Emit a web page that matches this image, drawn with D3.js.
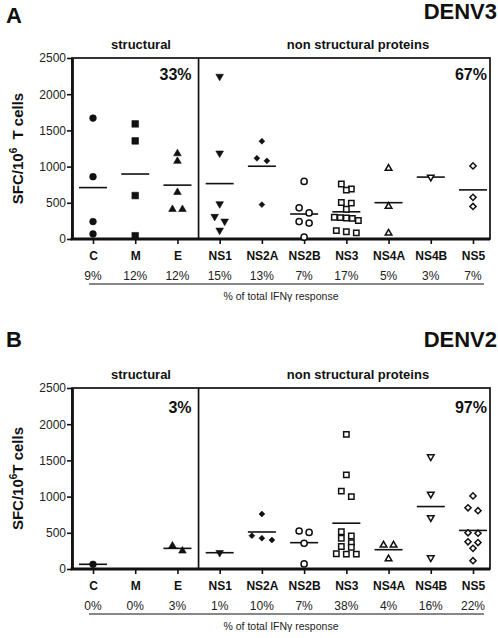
<!DOCTYPE html>
<html>
<head>
<meta charset="utf-8">
<script src="https://cdn.jsdelivr.net/npm/d3@7"></script>
<style>
  body { margin: 0; background: #fff; }
  svg { display: block; }
</style>
</head>
<body>
<svg id="chart" width="498" height="638"></svg>
<script>
// Kategorier och data
const PROTEINS = ["C", "M", "E", "NS1", "NS2A", "NS2B", "NS3", "NS4A", "NS4B", "NS5"];
const N_STRUCTURAL = 3;
const Y_TICKS = [0, 500, 1000, 1500, 2000, 2500];
const GROUP_LABELS = ["structural", "non structural proteins"];

// SFC/10^6 T cells per protein (DENV3)
const DENV3_SFC = [
  [1670, 860, 240, 70],
  [1590, 1355, 600, 45],
  [1180, 1075, 645, 410, 410],
  [2245, 1185, 485, 310, 245, 120],
  [1350, 1115, 1080, 475],
  [795, 430, 360, 240, 220, 25],
  [760, 690, 675, 505, 495, 410, 300, 295, 290, 285, 255, 115, 100, 85],
  [975, 450, 80],
  [855],
  [1010, 575, 450]
];
const DENV3_PCT = ["9%", "12%", "12%", "15%", "13%", "7%", "17%", "5%", "3%", "7%"];
const DENV3_GROUP_PCT = ["33%", "67%"];

// SFC/10^6 T cells per protein (DENV2)
const DENV2_SFC = [
  [65],
  [],
  [320, 250],
  [225],
  [760, 460, 425, 400],
  [525, 505, 355, 70],
  [1860, 1300, 1075, 1000, 515, 455, 425, 365, 310, 300, 210, 205, 205],
  [330, 330, 140],
  [1550, 1035, 710, 155],
  [1010, 845, 805, 500, 495, 375, 365, 285, 115]
];
const DENV2_PCT = ["0%", "0%", "3%", "1%", "10%", "7%", "38%", "4%", "16%", "22%"];
const DENV2_GROUP_PCT = ["3%", "97%"];

const FONT = "'Liberation Sans', Arial, Helvetica, sans-serif";

const layout = {
  plotLeft: 72,
  plotRight: 490,
  firstX: 93,
  lastX: 473,
  plotH: 181,
  meanHalf: 14
};

// Markörstil per protein
const MARKERS = [
  { type: d3.symbolCircle, size: 36, fill: true, rot: 0 },
  { type: d3.symbolSquare, size: 44, fill: true, rot: 0 },
  { type: d3.symbolTriangle, size: 25, fill: true, rot: 0 },
  { type: d3.symbolTriangle, size: 25, fill: true, rot: 180 },
  { type: d3.symbolSquare, size: 17, fill: true, rot: 45 },
  { type: d3.symbolCircle, size: 30, fill: false, rot: 0 },
  { type: d3.symbolSquare, size: 29, fill: false, rot: 0 },
  { type: d3.symbolTriangle, size: 19, fill: false, rot: 0 },
  { type: d3.symbolTriangle, size: 19, fill: false, rot: 180 },
  { type: d3.symbolSquare, size: 19, fill: false, rot: 45 }
];

const svg = d3.select("#chart");

/**
 * Radbaserad spridning av punkter (som i GraphPad)
 */
function swarm(values, y, rowH = 6, step = 10, maxW = 24) {
  const pts = values.map(v => ({ v, py: y(v) })).sort((a, b) => a.py - b.py);
  const out = [];
  let row = [];
  const flush = () => {
    const n = row.length;
    const s = n > 1 ? Math.min(step, maxW / (n - 1)) : 0;
    row.forEach((p, i) => out.push({ v: p.v, dx: (i - (n - 1) / 2) * s }));
    row = [];
  };
  pts.forEach(p => {
    if (row.length && p.py - row[0].py > rowH) flush();
    row.push(p);
  });
  if (row.length) flush();
  return out;
}

function drawPanel(opts) {
  const { top, sfc, pct, groupPct, letter, serotype, letterY, serotypeY, shareY, yTitle } = opts;
  const g = svg.append("g");

  const y = d3.scaleLinear().domain([0, 2500]).range([top + layout.plotH, top]);
  const x = d3.scalePoint().domain(PROTEINS).range([layout.firstX, layout.lastX]);
  const y0 = y(0);
  const divX = (x(PROTEINS[N_STRUCTURAL - 1]) + x(PROTEINS[N_STRUCTURAL])) / 2;

  // Ram
  g.append("rect")
    .attr("x", layout.plotLeft).attr("y", top)
    .attr("width", layout.plotRight - layout.plotLeft)
    .attr("height", y0 - top)
    .attr("fill", "none").attr("stroke", "#111").attr("stroke-width", 1.7);
  g.append("line")
    .attr("x1", divX).attr("x2", divX).attr("y1", top).attr("y2", y0)
    .attr("stroke", "#111").attr("stroke-width", 1.7);

  // Y-axel
  const yAxis = g.append("g")
    .attr("transform", `translate(${layout.plotLeft},0)`)
    .call(d3.axisLeft(y).tickValues(Y_TICKS).tickFormat(d3.format("d"))
      .tickSize(5).tickSizeOuter(0).tickPadding(1));
  yAxis.attr("font-family", FONT).attr("font-size", 12);
  yAxis.select(".domain").attr("stroke", "#111").attr("stroke-width", 2.8);
  yAxis.selectAll(".tick line").attr("stroke", "#111").attr("stroke-width", 1.6);
  yAxis.selectAll(".tick text").attr("fill", "#222");

  // X-axel
  const xAxis = g.append("g")
    .attr("transform", `translate(0,${y0})`)
    .call(d3.axisBottom(x).tickSize(5).tickPadding(7));
  xAxis.attr("font-family", FONT).attr("font-size", 12).attr("font-weight", "bold");
  xAxis.select(".domain").remove();
  xAxis.selectAll(".tick line").attr("stroke", "#111").attr("stroke-width", 1.6);
  xAxis.selectAll(".tick text").attr("fill", "#111");
  g.append("line")
    .attr("x1", layout.plotLeft - 1.4).attr("x2", layout.plotRight)
    .attr("y1", y0).attr("y2", y0)
    .attr("stroke", "#111").attr("stroke-width", 2.8);

  // Procent per protein
  g.selectAll(".pct").data(pct).join("text")
    .attr("x", (d, i) => x(PROTEINS[i]))
    .attr("y", y0 + 41)
    .attr("text-anchor", "middle")
    .attr("font-family", FONT).attr("font-size", 12).attr("fill", "#222")
    .text(d => d);
  g.append("line")
    .attr("x1", layout.firstX - 4).attr("x2", layout.lastX + 11)
    .attr("y1", y0 + 45).attr("y2", y0 + 45)
    .attr("stroke", "#111").attr("stroke-width", 1.2);
  g.append("text")
    .attr("x", (layout.plotLeft + layout.plotRight) / 2)
    .attr("y", y0 + 61)
    .attr("text-anchor", "middle")
    .attr("font-family", FONT).attr("font-size", 10.5).attr("fill", "#222")
    .text("% of total IFNγ response");

  // Grupprubriker
  const groupX = [141, 358];
  GROUP_LABELS.forEach((lab, i) => {
    g.append("text")
      .attr("x", groupX[i]).attr("y", top - 9)
      .attr("text-anchor", "middle")
      .attr("font-family", FONT).attr("font-size", 13).attr("font-weight", "bold")
      .attr("fill", "#111")
      .text(lab);
  });
  [divX - 7, layout.plotRight - 3].forEach((xx, i) => {
    g.append("text")
      .attr("x", xx).attr("y", shareY)
      .attr("text-anchor", "end")
      .attr("font-family", FONT).attr("font-size", 16).attr("font-weight", "bold")
      .attr("fill", "#111")
      .text(groupPct[i]);
  });

  // Panelbokstav och serotyp
  g.append("text").attr("x", 6).attr("y", letterY)
    .attr("font-family", FONT).attr("font-size", 22).attr("font-weight", "bold")
    .attr("fill", "#111").text(letter);
  g.append("text").attr("x", 497).attr("y", serotypeY)
    .attr("text-anchor", "end")
    .attr("font-family", FONT).attr("font-size", 22).attr("font-weight", "bold")
    .attr("fill", "#111").text(serotype);

  // Y-axeltitel
  const yt = g.append("text")
    .attr("transform", `translate(23,${(top + y0) / 2}) rotate(-90)`)
    .attr("text-anchor", "middle")
    .attr("font-family", FONT).attr("font-size", 15).attr("font-weight", "bold")
    .attr("fill", "#111")
    .attr("xml:space", "preserve");
  yt.append("tspan").text("SFC/10");
  yt.append("tspan").attr("font-size", 10).attr("dy", -6).text("6");
  yt.append("tspan").attr("dy", 6).text(yTitle);

  // Medelvärdeslinjer
  sfc.forEach((vals, i) => {
    if (!vals.length) return;
    const m = d3.mean(vals);
    const cx = x(PROTEINS[i]);
    g.append("line")
      .attr("x1", cx - layout.meanHalf).attr("x2", cx + layout.meanHalf)
      .attr("y1", y(m)).attr("y2", y(m))
      .attr("stroke", "#111").attr("stroke-width", 1.6);
  });

  // Punkter
  sfc.forEach((vals, i) => {
    const mk = MARKERS[i];
    const sym = d3.symbol().type(mk.type).size(mk.size);
    const cx = x(PROTEINS[i]);
    g.append("g").selectAll("path")
      .data(swarm(vals, y))
      .join("path")
      .attr("d", sym)
      .attr("transform", d => `translate(${cx + d.dx},${y(d.v)}) rotate(${mk.rot})`)
      .attr("fill", mk.fill ? "#111" : "#fff")
      .attr("stroke", "#111")
      .attr("stroke-width", mk.fill ? 0.6 : 1.5);
  });
}

drawPanel({
  top: 58, sfc: DENV3_SFC, pct: DENV3_PCT, groupPct: DENV3_GROUP_PCT,
  letter: "A", serotype: "DENV3", letterY: 23, serotypeY: 19, shareY: 80,
  yTitle: " \u00a0T cells"
});
drawPanel({
  top: 388, sfc: DENV2_SFC, pct: DENV2_PCT, groupPct: DENV2_GROUP_PCT,
  letter: "B", serotype: "DENV2", letterY: 347, serotypeY: 347, shareY: 413,
  yTitle: "T cells"
});
</script>
</body>
</html>
